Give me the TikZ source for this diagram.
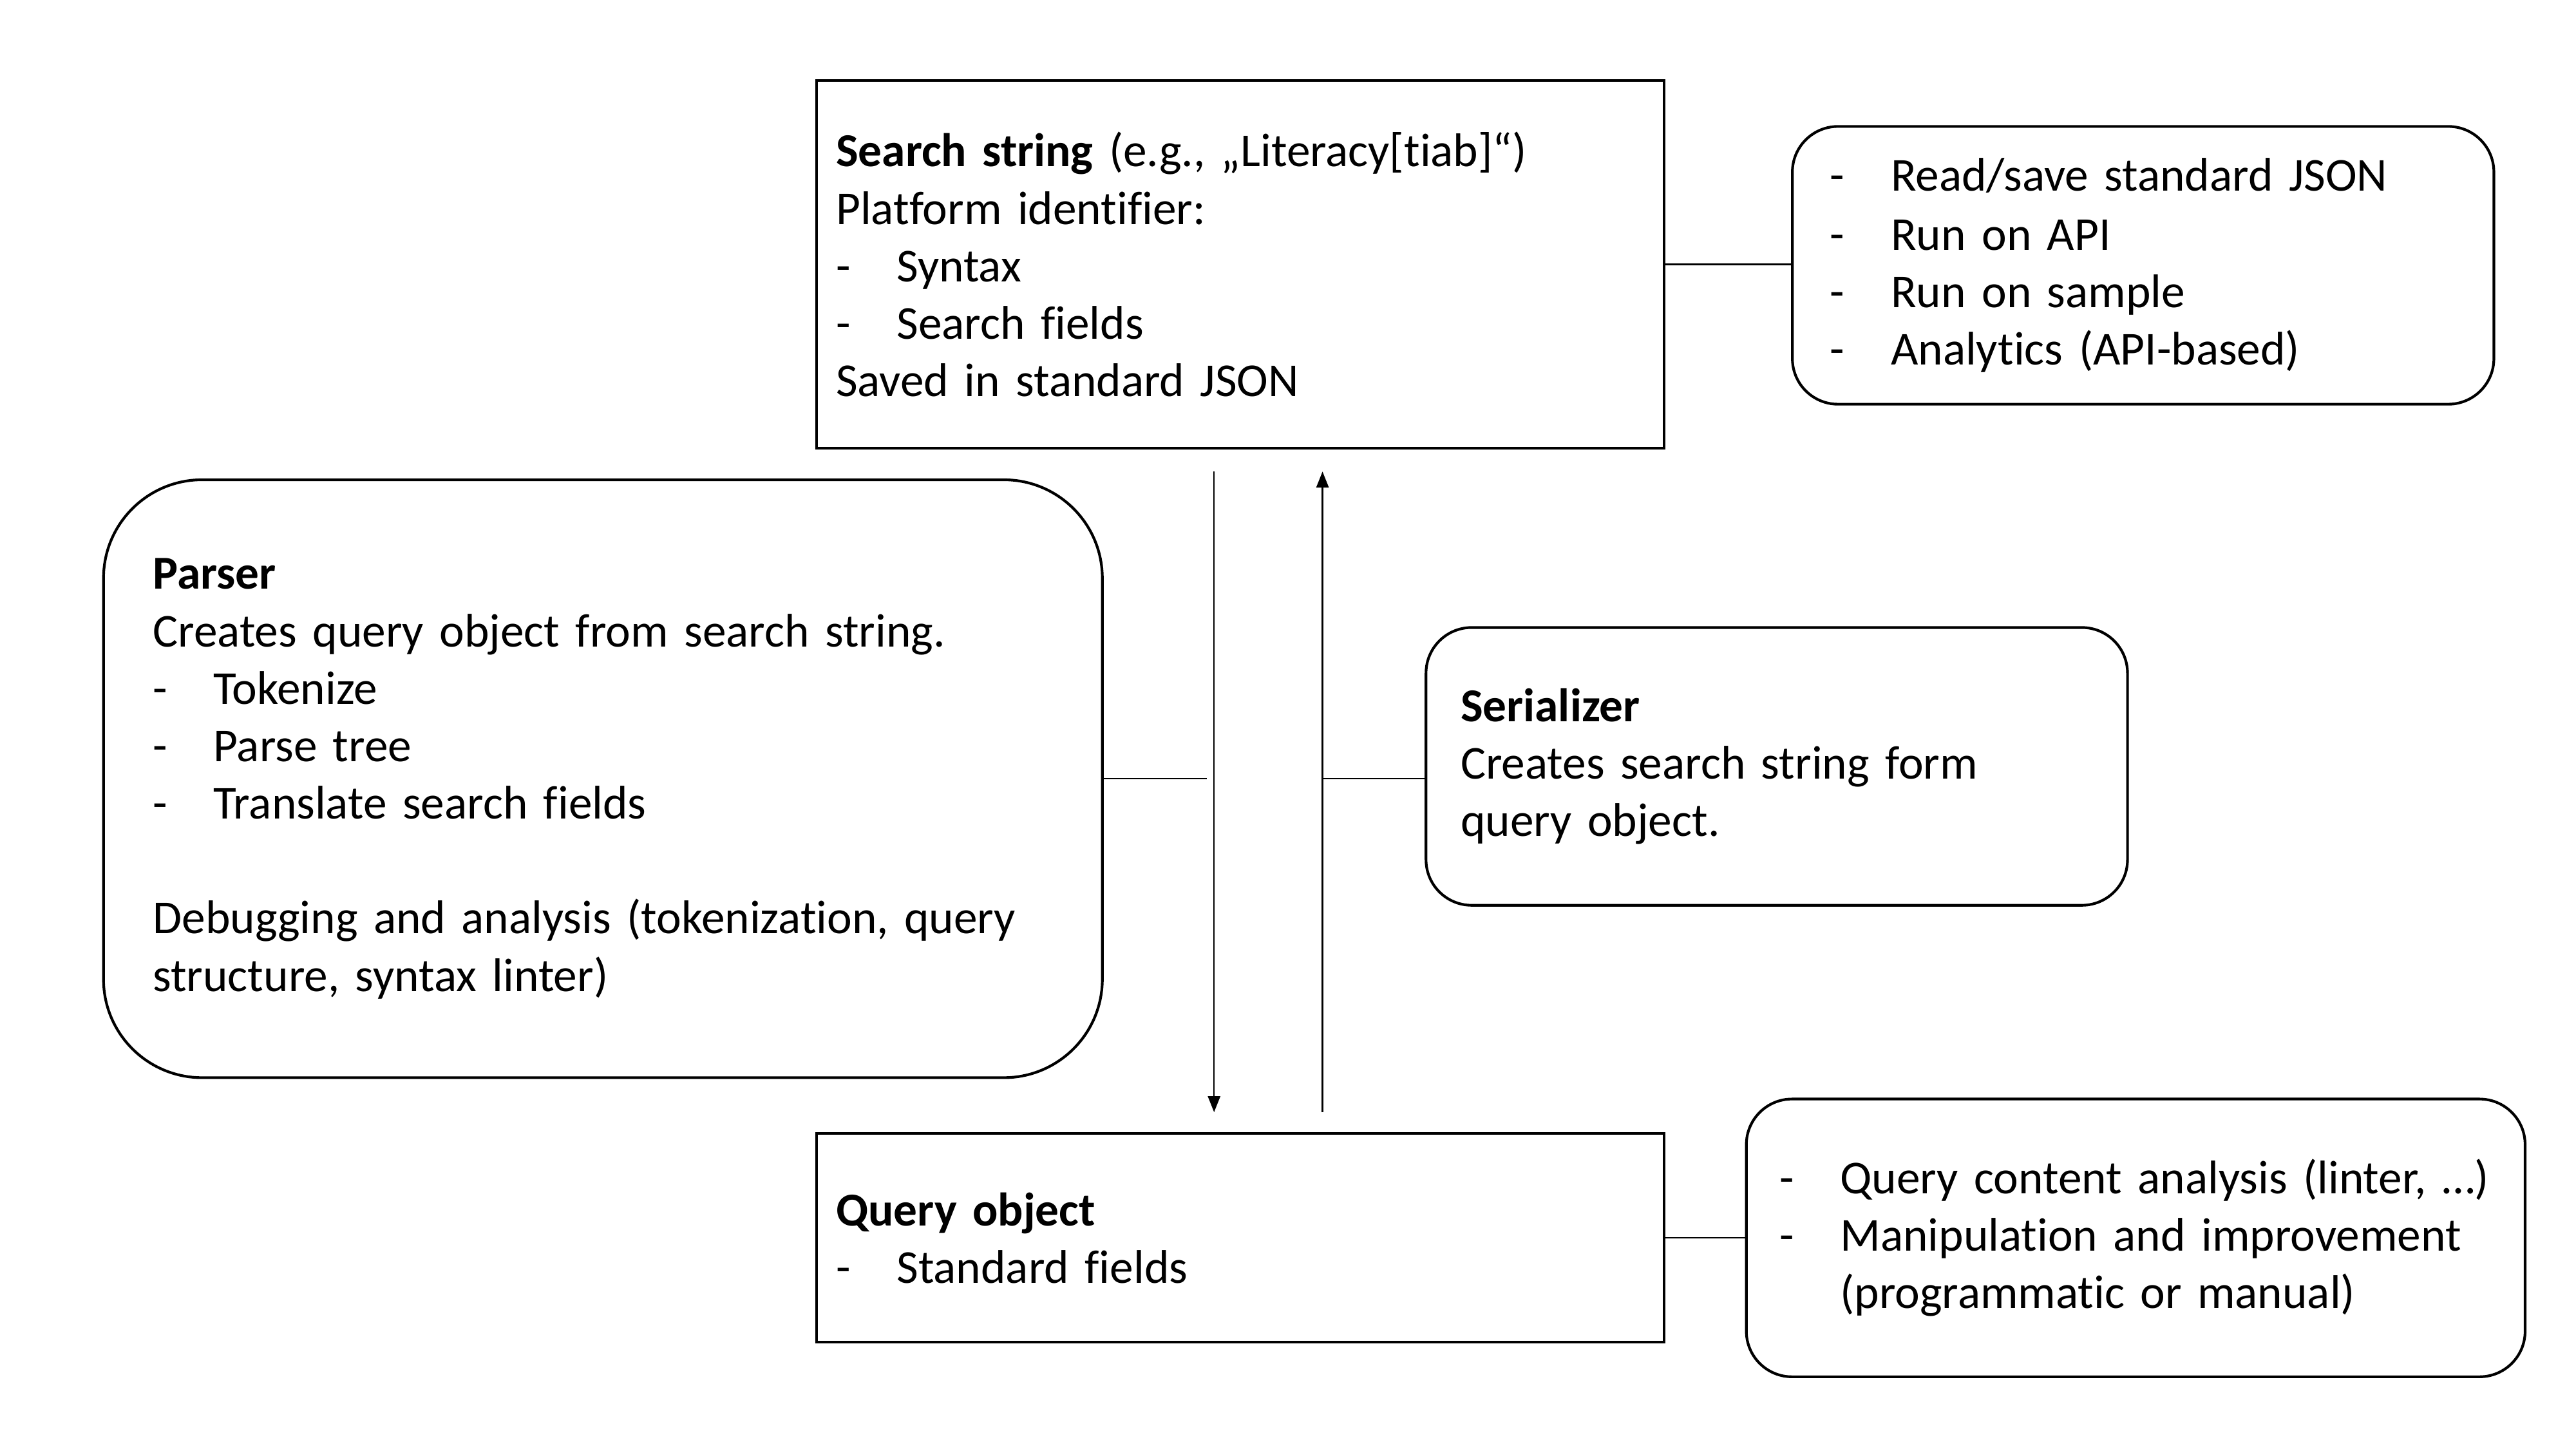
\documentclass[tikz,border=0pt]{standalone}
\usepackage{fontspec}
\setmainfont[Ligatures={NoCommon}]{Carlito}
\usetikzlibrary{arrows.meta}
\newcommand\bl{\makebox[22.6pt][l]{-}}
\begin{document}
\begin{tikzpicture}[x=0.6122pt,y=-0.6122pt,
  box/.style={draw, line width=1pt, align=left, inner ysep=0pt,
    font=\fontsize{17.6pt}{21.4pt}\selectfont},
  conn/.style={line width=0.6pt},
  arr/.style={line width=0.6pt, -{Triangle[length=6pt,width=4.6pt]}}]
\useasboundingbox (0,0) rectangle (1568,882);
\fill[white] (0,0) rectangle (1568,882);

\node[box, minimum height=137.1pt, text width=301.3pt, inner xsep=7.3pt] (ss) at (755,161)
  {\textbf{Search string} (e.g., „Literacy[tiab]“)\\Platform identifier:\\\bl Syntax\\\bl Search fields\\Saved in standard JSON};

\node[box, rounded corners=17pt, minimum height=103.5pt, text width=233.2pt, inner xsep=14.1pt] (tr) at (1304.5,161.5)
  {\bl Read/save standard JSON\\[0.8pt]\bl Run on API\\\bl Run on sample\\\bl Analytics (API-based)};

\node[box, rounded corners=36.7pt, minimum height=222.8pt, text width=335.4pt, inner xsep=18.4pt] (parser) at (367,474)
  {\textbf{Parser}\\Creates query object from search string.\\\bl Tokenize\\\bl Parse tree\\\bl Translate search fields\\[21.4pt]Debugging and analysis (tokenization, query\\structure, syntax linter)};

\node[box, rounded corners=17pt, minimum height=103.5pt, text width=235.6pt, inner xsep=12.9pt] (sr) at (1081.5,466.5)
  {\textbf{Serializer}\\Creates search string form\\query object.};

\node[box, minimum height=77.7pt, text width=301.3pt, inner xsep=7.3pt] (qo) at (755,753.5)
  {\textbf{Query object}\\\bl Standard fields};

\node[box, rounded corners=17pt, minimum height=103.5pt, text width=265.4pt, inner xsep=12.4pt] (br) at (1300,753.5)
  {\mbox{\bl Query content analysis (linter, …)}\\\bl Manipulation and improvement\\\hspace*{22.6pt}(programmatic or manual)};

\coordinate (dtop) at (739,287);
\coordinate (dbot) at (739,677);
\coordinate (utop) at (805,287);
\coordinate (ubot) at (805,677);
\coordinate (pj) at (734.5,474);

\draw[arr] (dtop) -- (dbot);
\draw[arr] (ubot) -- (utop);

\draw[conn] (ss.east) -- (ss.east -| tr.west);
\draw[conn] (parser.east |- pj) -- (pj);
\draw[conn] (pj -| utop) -- (pj -| sr.west);
\draw[conn] (qo.east) -- (qo.east -| br.west);
\end{tikzpicture}
\end{document}
